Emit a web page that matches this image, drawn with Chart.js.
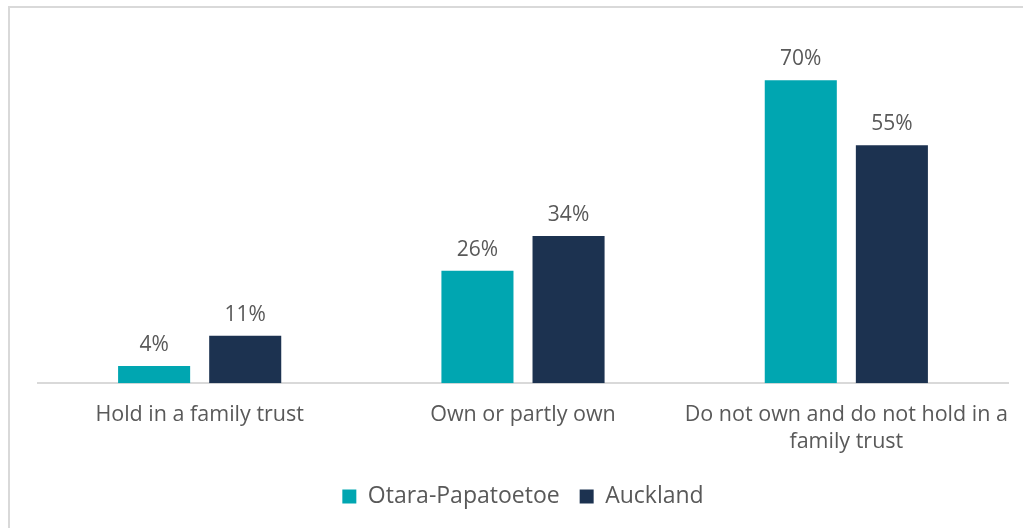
<!DOCTYPE html>
<html>
<head>
<meta charset="utf-8">
<script src="https://cdn.jsdelivr.net/npm/chart.js@4/dist/chart.umd.min.js"></script>
<style>
  html, body { margin: 0; padding: 0; background: #fff; overflow: hidden; }
  #frame { position: absolute; left: 8px; top: 6px; width: 1100px; height: 600px;
           border-left: 2px solid #d9d9d9; border-top: 2px solid #d9d9d9; }
  #wrap { position: absolute; left: 0; top: 0; width: 1023px; height: 528px; }
</style>
</head>
<body>
<div id="frame"></div>
<div id="wrap"><canvas id="chart"></canvas></div>
<script>
// categories and series
const categories = [
    'Hold in a family trust',
    'Own or partly own',
    ['Do not own and do not hold in a', 'family trust']
];
const otaraValues = [4, 26, 70];
const aucklandValues = [11, 34, 55];

const textColor = '#595959';
const fontFamily = "'Open Sans', Arial, sans-serif";

// draw the % labels above each bar
const barLabels = {
    id: 'barLabels',
    afterDatasetsDraw(chart) {
        const ctx = chart.ctx;
        ctx.save();
        ctx.font = '21px ' + fontFamily;
        ctx.fillStyle = textColor;
        ctx.textAlign = 'center';
        ctx.textBaseline = 'alphabetic';
        chart.data.datasets.forEach((ds, i) => {
            chart.getDatasetMeta(i).data.forEach((bar, j) => {
                ctx.fillText(ds.data[j] + '%', bar.x, bar.y - 15);
            });
        });
        ctx.restore();
    }
};

const ctx = document.getElementById('chart').getContext('2d');
const chart = new Chart(ctx, {
    type: 'bar',
    data: {
        labels: categories,
        datasets: [{
            label: 'Otara-Papatoetoe',
            data: otaraValues,
            backgroundColor: '#00A6B1'
        }, {
            label: 'Auckland',
            data: aucklandValues,
            backgroundColor: '#1C3250'
        }]
    },
    options: {
        responsive: true,
        maintainAspectRatio: false,
        animation: false,
        categoryPercentage: 0.5635,
        barPercentage: 0.791,
        layout: { padding: { left: 38, right: 15, top: 37, bottom: 10 } },
        scales: {
            x: {
                grid: { display: false },
                border: { display: true, color: '#d9d9d9', width: 2 },
                ticks: {
                    color: textColor,
                    font: { family: fontFamily, size: 21.5, lineHeight: 1.25 },
                    maxRotation: 0,
                    autoSkip: false,
                    padding: 10
                }
            },
            y: {
                display: false,
                min: 0,
                max: 80
            }
        },
        plugins: {
            legend: {
                position: 'bottom',
                labels: {
                    color: textColor,
                    font: { family: fontFamily, size: 23 },
                    boxWidth: 14,
                    boxHeight: 14,
                    padding: 20
                }
            },
            tooltip: { enabled: false }
        }
    },
    plugins: [barLabels]
});
</script>
</body>
</html>
